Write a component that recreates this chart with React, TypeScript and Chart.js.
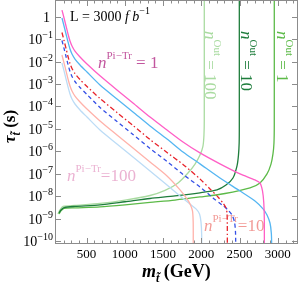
import React, { useEffect, useRef } from "react";
import { Chart, registerables } from "chart.js";

Chart.register(...registerables);

// ---------- data (stop mass in GeV, lifetime in s) ----------
const pinkMass = [178, 205, 231, 257, 283, 309, 348, 414, 505, 675, 897, 1106, 1329, 1551, 1760, 1982, 2243, 2505, 2701, 2766, 2799, 2816, 2823, 2823];
const pinkTau = [1.94, 0.86, 0.38, 0.167, 0.081, 0.049, 0.029, 0.0158, 0.0077, 0.0023, 0.00054, 0.000143, 3.4e-5, 9.0e-6, 2.64e-6, 8.6e-7, 2.8e-7, 1.0e-7, 5.4e-8, 4.0e-8, 1.75e-8, 5.1e-9, 9.0e-10, 1e-11];

const skyMass = [178, 205, 231, 257, 283, 309, 348, 414, 505, 675, 897, 1106, 1329, 1551, 1760, 1982, 2243, 2505, 2701, 2806, 2858, 2897, 2914, 2919, 2919];
const skyTau = [0.86, 0.38, 0.167, 0.074, 0.036, 0.0215, 0.0129, 0.007, 0.0034, 0.0009, 2.15e-4, 5.7e-5, 1.36e-5, 3.6e-6, 9.5e-7, 2.8e-7, 6.6e-8, 1.75e-8, 6.3e-9, 2.8e-9, 1.5e-9, 6.6e-10, 2.4e-10, 7e-11, 1e-11];

const redMass = [178, 205, 231, 257, 283, 309, 348, 414, 505, 675, 897, 1106, 1329, 1551, 1760, 1982, 2113, 2217, 2283, 2322, 2335, 2339, 2339];
const redTau = [0.195, 0.086, 0.038, 0.0167, 0.0081, 0.0049, 0.0029, 0.00158, 0.00077, 0.000227, 5.4e-5, 1.43e-5, 3.4e-6, 9e-7, 2.64e-7, 6e-8, 2.15e-8, 9.5e-9, 5.1e-9, 3.1e-9, 1.85e-9, 5.4e-10, 1e-11];

const blueMass = [178, 205, 231, 257, 283, 309, 348, 414, 505, 675, 897, 1106, 1329, 1551, 1760, 1982, 2152, 2270, 2348, 2400, 2433, 2446, 2449, 2449];
const blueTau = [0.086, 0.038, 0.0167, 0.0074, 0.0036, 0.00215, 0.00129, 0.0007, 0.00034, 9e-5, 2.15e-5, 5.7e-6, 1.36e-6, 3.6e-7, 9.5e-8, 2.64e-8, 8.6e-9, 4.2e-9, 2.5e-9, 1.5e-9, 7.4e-10, 2.64e-10, 7e-11, 1e-11];

const salmonMass = [178, 205, 231, 257, 283, 309, 348, 414, 505, 675, 897, 1106, 1329, 1551, 1721, 1812, 1858, 1884, 1893, 1894, 1894];
const salmonTau = [0.0195, 0.0086, 0.0038, 0.00167, 0.00081, 0.00049, 0.00029, 0.000158, 7.7e-5, 2.27e-5, 5.4e-6, 1.43e-6, 3.4e-7, 8.1e-8, 1.95e-8, 7.7e-9, 4.2e-9, 2.27e-9, 7.4e-10, 1.17e-10, 1e-11];

const paleMass = [178, 205, 231, 257, 283, 309, 348, 414, 505, 675, 897, 1106, 1329, 1551, 1721, 1851, 1930, 1976, 1995, 2004, 2004];
const paleTau = [0.0086, 0.0038, 0.00167, 0.00074, 0.00036, 0.000215, 0.000129, 7e-5, 3.4e-5, 9e-6, 2.15e-6, 5.7e-7, 1.36e-7, 3.2e-8, 1.05e-8, 4.6e-9, 2.8e-9, 1.67e-9, 7.4e-10, 1.95e-10, 1e-11];

const out100Mass = [126, 152, 192, 348, 675, 1002, 1329, 1525, 1695, 1825, 1917, 1982, 2021, 2034, 2038, 2038];
const out100Tau = [1.66e-9, 2.5e-9, 3.6e-9, 4e-9, 4.9e-9, 6.9e-9, 1.1e-8, 1.86e-8, 4e-8, 1.1e-7, 2.75e-7, 6.9e-7, 1.74e-6, 5.4e-6, 2.5e-5, 10];

const out10Mass = [139, 165, 205, 348, 675, 1002, 1329, 1655, 1982, 2204, 2322, 2413, 2466, 2485, 2494, 2496, 2496];
const out10Tau = [1.86e-9, 2.5e-9, 3.2e-9, 3.6e-9, 4.2e-9, 5.8e-9, 8.1e-9, 1.05e-8, 1.45e-8, 1.95e-8, 3.2e-8, 6.6e-8, 2.3e-7, 6.9e-7, 2.4e-6, 1.5e-5, 10];

const out1Mass = [139, 165, 205, 348, 675, 1002, 1329, 1655, 1982, 2309, 2636, 2766, 2858, 2910, 2936, 2949, 2953, 2953];
const out1Tau = [1.66e-9, 2.3e-9, 2.95e-9, 3.1e-9, 3.4e-9, 4.2e-9, 5.4e-9, 6.9e-9, 9.5e-9, 1.35e-8, 2.4e-8, 4e-8, 1e-7, 2.75e-7, 7.8e-7, 2.4e-6, 1.5e-5, 10];

const xMajorTicks = [500, 1000, 1500, 2000, 2500, 3000];
const yTickExponents = [0, -1, -2, -3, -4, -5, -6, -7, -8, -9, -10];

const SERIF = "'Liberation Serif', 'Times New Roman', serif";

type Part = { t: string; font: string; dy?: number };

function drawRun(ctx: CanvasRenderingContext2D, x: number, y: number, parts: Part[]) {
  let cx = x;
  for (const p of parts) {
    ctx.font = p.font;
    ctx.fillText(p.t, cx, y + (p.dy || 0));
    cx += ctx.measureText(p.t).width;
  }
  return cx;
}
function runWidth(ctx: CanvasRenderingContext2D, parts: Part[]) {
  let w = 0;
  for (const p of parts) {
    ctx.font = p.font;
    w += ctx.measureText(p.t).width;
  }
  return w;
}

function pts(xs: number[], ys: number[]) {
  return xs.map((x, i) => ({ x, y: ys[i] }));
}

const decor = {
  id: "decor",
  beforeDatasetsDraw(chart: any) {
    const ctx: CanvasRenderingContext2D = chart.ctx;
    ctx.save();
    ctx.textBaseline = "alphabetic";
    ctx.textAlign = "left";
    const big = (s: number) => `italic ${s}px ${SERIF}`;
    const reg = (s: number) => `${s}px ${SERIF}`;
    // n^{Pi-Tr} = 1
    ctx.fillStyle = "#c2569e";
    drawRun(ctx, 98, 68, [
      { t: "n", font: big(17) },
      { t: "Pi\u2212Tr", font: reg(11), dy: -9 },
      { t: " = 1", font: reg(17) },
    ]);
    // n^{Pi-Tr}=100
    ctx.fillStyle = "#ebb2d2";
    drawRun(ctx, 67, 181, [
      { t: "n", font: big(17) },
      { t: "Pi\u2212Tr", font: reg(11), dy: -9 },
      { t: "=100", font: reg(17) },
    ]);
    // n^{Pi-Tr}=10
    ctx.fillStyle = "#f29a96";
    drawRun(ctx, 204, 231, [
      { t: "n", font: big(17) },
      { t: "Pi\u2212Tr", font: reg(11), dy: -9 },
      { t: "=10", font: reg(17) },
    ]);
    // rotated n^Out labels
    const rot = (x: number, y: number, color: string, val: string) => {
      ctx.save();
      ctx.translate(x, y);
      ctx.rotate(Math.PI / 2);
      ctx.fillStyle = color;
      drawRun(ctx, 0, 0, [
        { t: "n", font: big(17) },
        { t: "Out", font: reg(11), dy: -9 },
        { t: " = " + val, font: reg(17) },
      ]);
      ctx.restore();
    };
    rot(205, 31, "#a9dba0", "100");
    rot(241, 31, "#1e7d3c", "10");
    rot(277, 31, "#5cba48", "1");
    ctx.restore();
  },
  afterDatasetsDraw(chart: any) {
    const ctx: CanvasRenderingContext2D = chart.ctx;
    const a = chart.chartArea;
    const xs = chart.scales.x;
    const ys = chart.scales.y;
    ctx.save();
    // frame
    ctx.strokeStyle = "#8c8c8c";
    ctx.lineWidth = 1;
    ctx.strokeRect(a.left - 0.5, a.top - 0.5, a.right - a.left + 1, a.bottom - a.top + 1);
    // x ticks (bottom and top)
    ctx.beginPath();
    for (let v = 200; v <= 3200; v += 100) {
      const px = Math.round(xs.getPixelForValue(v)) + 0.5;
      const len = v % 500 === 0 ? 5 : 2.5;
      ctx.moveTo(px, a.bottom);
      ctx.lineTo(px, a.bottom - len);
      ctx.moveTo(px, a.top);
      ctx.lineTo(px, a.top + len);
    }
    // y ticks (left and right)
    for (const e of yTickExponents) {
      const py = Math.round(ys.getPixelForValue(Math.pow(10, e))) + 0.5;
      ctx.moveTo(a.left, py);
      ctx.lineTo(a.left + 5, py);
      ctx.moveTo(a.right, py);
      ctx.lineTo(a.right - 5, py);
    }
    ctx.stroke();

    ctx.fillStyle = "#000";
    ctx.textBaseline = "alphabetic";
    // x tick labels
    ctx.textAlign = "center";
    ctx.font = `13px ${SERIF}`;
    for (const v of xMajorTicks) {
      ctx.fillText(String(v), xs.getPixelForValue(v), 258);
    }
    // y tick labels
    ctx.textAlign = "left";
    for (const e of yTickExponents) {
      const py = ys.getPixelForValue(Math.pow(10, e));
      if (e === 0) {
        ctx.font = `14px ${SERIF}`;
        const w = ctx.measureText("1").width;
        ctx.fillText("1", 50 - w, py + 5);
      } else {
        const parts: Part[] = [
          { t: "10", font: `14px ${SERIF}` },
          { t: "\u2212" + String(-e), font: `10px ${SERIF}`, dy: -6 },
        ];
        const w = runWidth(ctx, parts);
        drawRun(ctx, 53 - w, py + 5, parts);
      }
    }
    // L = 3000 fb^-1
    drawRun(ctx, 70, 21, [
      { t: "L = 3000 ", font: `14px ${SERIF}` },
      { t: "f b", font: `italic 14px ${SERIF}` },
      { t: "\u22121", font: `10px ${SERIF}`, dy: -7 },
    ]);
    // x title
    drawRun(ctx, 142, 277, [
      { t: "m", font: `italic bold 18px ${SERIF}` },
      { t: "t\u0303", font: `italic bold 12px ${SERIF}`, dy: 5 },
      { t: " (GeV)", font: `bold 18px ${SERIF}` },
    ]);
    // y title (rotated)
    ctx.save();
    ctx.translate(15, 143);
    ctx.rotate(-Math.PI / 2);
    drawRun(ctx, 0, 0, [
      { t: "\u03C4", font: `italic bold 17px ${SERIF}` },
      { t: "t\u0303", font: `italic bold 12px ${SERIF}`, dy: 5 },
      { t: " (s)", font: `bold 17px ${SERIF}` },
    ]);
    ctx.restore();
    ctx.restore();
  },
};

export default function App() {
  const ref = useRef<HTMLCanvasElement | null>(null);
  useEffect(() => {
    if (!ref.current) return;
    const line = (data: any, color: string, dash: number[] = [], width = 1.3) => ({
      data,
      showLine: true,
      borderColor: color,
      borderWidth: width,
      borderDash: dash,
      pointRadius: 0,
      fill: false,
      tension: 0.25,
    });
    const chart = new Chart(ref.current, {
      type: "scatter",
      data: {
        datasets: [
          line(pts(redMass, redTau), "#e8222a", [5, 2.5, 1.5, 2.5]),
          line(pts(blueMass, blueTau), "#3550e6", [4, 3]),
          line(pts(pinkMass, pinkTau), "#ff5fc6"),
          line(pts(skyMass, skyTau), "#55b6f2"),
          line(pts(salmonMass, salmonTau), "#ffb2aa"),
          line(pts(paleMass, paleTau), "#bcdcf6"),
          line(pts(out10Mass, out10Tau), "#1e7d3c"),
          line(pts(out1Mass, out1Tau), "#5cba48"),
          line(pts(out100Mass, out100Tau), "#a9dba0"),
        ] as any,
      },
      options: {
        responsive: false,
        animation: false,
        events: [],
        layout: { padding: { left: 56, right: 3, top: 1, bottom: 47 } },
        plugins: { legend: { display: false }, tooltip: { enabled: false }, title: { display: false } },
        scales: {
          x: { type: "linear", min: 100, max: 3250, display: false },
          y: { type: "logarithmic", min: 8.5e-11, max: 4.9, display: false },
        },
      },
      plugins: [decor],
    });
    return () => chart.destroy();
  }, []);
  return (
    <div style={{ position: "absolute", left: 0, top: 0, width: 300, height: 290, background: "#fff" }}>
      <canvas ref={ref} width={300} height={290} />
    </div>
  );
}
